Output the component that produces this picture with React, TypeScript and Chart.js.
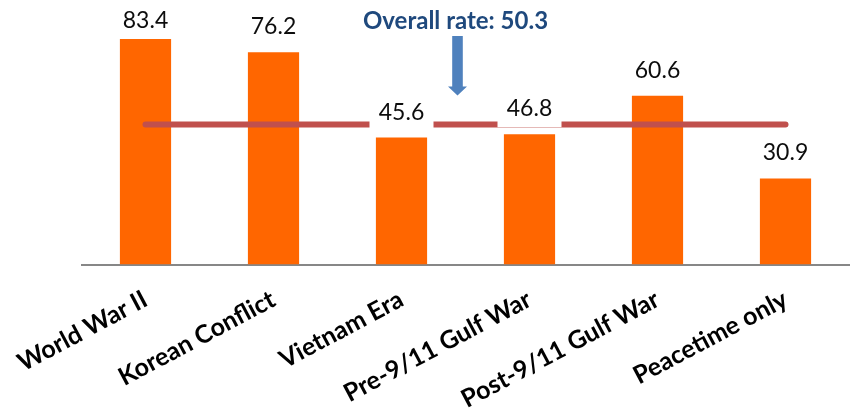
import React, { useEffect, useRef } from "react";
import { Chart, registerables } from "chart.js";

Chart.register(...registerables);

const categories = [
  "World War II",
  "Korean Conflict",
  "Vietnam Era",
  "Pre-9/11 Gulf War",
  "Post-9/11 Gulf War",
  "Peacetime only",
];
const rates = [83.4, 76.2, 45.6, 46.8, 60.6, 30.9];
const OVERALL_RATE = 50.3;
const overallLine = categories.map(() => OVERALL_RATE);
const Y_MAX = 81;

const FONT = "Lato";

const labelPlugin = {
  id: "valueLabels",
  afterDatasetsDraw(chart: any) {
    const { ctx, chartArea } = chart;
    const meta = chart.getDatasetMeta(1);
    ctx.save();
    meta.data.forEach((el: any, i: number) => {
      const top = Math.max(el.y, chartArea.top);
      const baseline = Math.max(top - 18, chartArea.top - 11);
      const text = rates[i].toFixed(1);
      ctx.fillStyle = "#ffffff";
      ctx.fillRect(el.x - 32, baseline - 22, 64, 33);
      ctx.fillStyle = "#0d0d0d";
      ctx.font = `23px ${FONT}`;
      ctx.textAlign = "center";
      ctx.textBaseline = "alphabetic";
      ctx.fillText(text, el.x, baseline);
    });

    // arrow + overall title
    const xs = chart.scales.x;
    const ys = chart.scales.y;
    const cx = (xs.getPixelForValue(2) + xs.getPixelForValue(3)) / 2 - 8;
    const lineY = ys.getPixelForValue(OVERALL_RATE);
    const tipY = lineY - 29;
    const headTop = tipY - 9;
    const shaftTop = 36;
    ctx.fillStyle = "#4F81BD";
    ctx.beginPath();
    ctx.moveTo(cx - 5.3, shaftTop);
    ctx.lineTo(cx + 5.3, shaftTop);
    ctx.lineTo(cx + 5.3, headTop);
    ctx.lineTo(cx + 9.5, headTop);
    ctx.lineTo(cx, tipY);
    ctx.lineTo(cx - 9.5, headTop);
    ctx.lineTo(cx - 5.3, headTop);
    ctx.closePath();
    ctx.fill();

    ctx.fillStyle = "#1F497D";
    ctx.font = `bold 24px ${FONT}`;
    ctx.textAlign = "center";
    ctx.fillText(`Overall rate: ${OVERALL_RATE}`, cx - 2, 29);
    ctx.restore();
  },
};

export default function App() {
  const ref = useRef<HTMLCanvasElement>(null);
  useEffect(() => {
    document.body.style.margin = "0";
    const chart = new Chart(ref.current as HTMLCanvasElement, {
      type: "bar",
      data: {
        labels: categories,
        datasets: [
          {
            type: "line",
            data: overallLine,
            borderColor: "#C0504D",
            borderWidth: 6,
            borderCapStyle: "round",
            pointRadius: 0,
            fill: false,
            order: 0,
          } as any,
          {
            type: "bar",
            data: rates,
            backgroundColor: "#FF6600",
            barPercentage: 0.4,
            categoryPercentage: 1,
            order: 1,
          },
        ],
      },
      options: {
        animation: false,
        responsive: false,
        layout: { padding: { top: 39, left: 81.5, right: 4.5, bottom: 0 } },
        plugins: { legend: { display: false }, tooltip: { enabled: false } },
        scales: {
          y: { display: false, min: 0, max: Y_MAX },
          x: {
            offset: true,
            grid: { display: false, drawTicks: false },
            border: { display: true, color: "#878787", width: 2 },
            ticks: {
              autoSkip: false,
              minRotation: 28,
              maxRotation: 28,
              padding: 20,
              color: "#000000",
              font: { family: FONT, weight: "bold", size: 25 },
            },
            afterFit(scale: any) {
              scale.height = 146.5;
              scale.paddingLeft = 0;
              scale.paddingRight = 0;
              scale.paddingTop = 0;
              scale.paddingBottom = 0;
            },
          },
        },
      },
      plugins: [labelPlugin],
    });
    return () => chart.destroy();
  }, []);
  return <canvas ref={ref} width={854} height={411} />;
}
